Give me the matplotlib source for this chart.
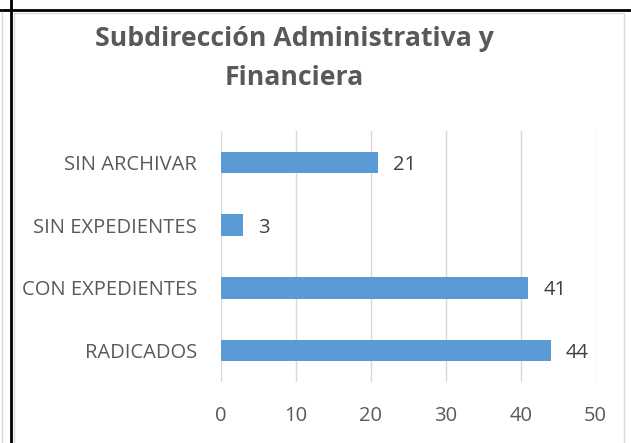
import matplotlib
matplotlib.use("Agg")
import matplotlib.pyplot as plt
from matplotlib.lines import Line2D
from matplotlib.patches import Rectangle

categories = ["RADICADOS", "CON EXPEDIENTES", "SIN EXPEDIENTES", "SIN ARCHIVAR"]
values = [44, 41, 3, 21]
xticks = [0, 10, 20, 30, 40, 50]
title_lines = ["Subdirección Administrativa y", "Financiera"]

W, H = 631, 443
fig = plt.figure(figsize=(W/100, H/100), dpi=100)
fig.patch.set_facecolor("white")

def fx(px):
    return px / W

def fy(py):
    return 1 - py / H

# table-cell borders
fig.add_artist(Line2D([0, 1], [fy(10), fy(10)], color="black", lw=2.0, transform=fig.transFigure))
fig.add_artist(Line2D([fx(11), fx(11)], [0, 1], color="black", lw=2.0, transform=fig.transFigure))
fig.add_artist(Line2D([fx(2), fx(2)], [0, fy(12)], color="#d9d9d9", lw=1, transform=fig.transFigure))
# chart area border
fig.add_artist(Rectangle((fx(14), -0.1), fx(624 - 14), fy(13) + 0.1, fill=False,
                         edgecolor="#d9d9d9", lw=1, transform=fig.transFigure))

ax = fig.add_axes([fx(220.7), fy(382), fx(595.7 - 220.7), (382 - 131) / H])
ax.barh(range(len(categories)), values, height=0.345, color="#5b9bd5", zorder=3)
ax.set_xlim(0, 50)
ax.set_ylim(-0.5, len(categories) - 0.5)
ax.set_xticks(xticks)
ax.set_yticks(range(len(categories)))
ax.set_yticklabels(categories)
ax.grid(axis="x", color="#d9d9d9", lw=1, zorder=0)
for s in ax.spines.values():
    s.set_visible(False)
ax.tick_params(axis="both", length=0, colors="#595959", labelsize=14.5)
ax.tick_params(axis="x", pad=17)
ax.tick_params(axis="y", pad=17)
for lab in ax.get_xticklabels() + ax.get_yticklabels():
    lab.set_fontfamily("Open Sans")
for i, v in enumerate(values):
    ax.text(v + 2.0, i, str(v), va="center_baseline", ha="left", fontsize=14.5,
            color="#404040", fontfamily="Open Sans")

fig.text(fx(294), fy(46), title_lines[0], ha="center", va="baseline", fontsize=19.2,
         fontweight="bold", color="#595959", fontfamily="Open Sans")
fig.text(fx(294), fy(85), title_lines[1], ha="center", va="baseline", fontsize=19.2,
         fontweight="bold", color="#595959", fontfamily="Open Sans")

fig.savefig("out.png", dpi=100)
